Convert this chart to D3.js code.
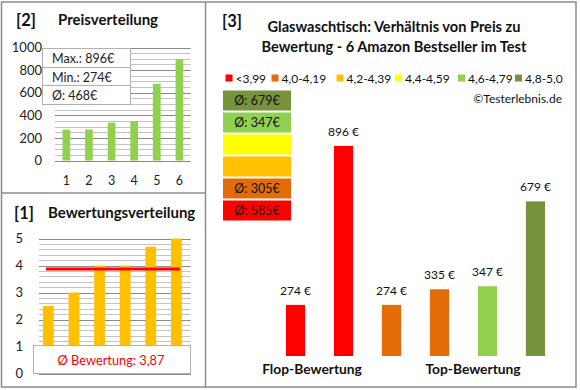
<!DOCTYPE html>
<html><head><meta charset="utf-8">
<script src="https://cdn.jsdelivr.net/npm/d3@7"></script>
<style>body{margin:0;background:#fff}svg{display:block;font-family:Lato,"Open Sans",sans-serif}</style>
</head><body><svg id="c" width="580" height="390"></svg>
<script>
// ---- data ----
const priceCats = ["1","2","3","4","5","6"];
const pricesSorted = [274,274,335,347,679,896];
const priceTicks = [0,200,400,600,800,1000];
const priceStats = ["Max.: 896€","Min.: 274€","Ø: 468€"];
const ratings = [2.5,3,4,4,4.7,5];
const ratingTicks = [0,1,2,3,4,5];
const avgRating = 3.87;
const avgRatingLabel = "Ø Bewertung: 3,87";
const mainPrices = [274,896,274,335,347,679];
const mainPriceLabels = ["274 €","896 €","274 €","335 €","347 €","679 €"];
const mainClass = [0,0,1,1,4,5];
const legendLabels = ["<3,99","4,0-4,19","4,2-4,39","4,4-4,59","4,6-4,79","4,8-5,0"];
const classColors = ["#FF0000","#E36C09","#FFC000","#FFFF00","#92D050","#77933C"];
const classAvg = ["Ø: 585€","Ø: 305€","","","Ø: 347€","Ø: 679€"];
const groupLabels = ["Flop-Bewertung","Top-Bewertung"];

const svg = d3.select("#c");
const frame = "#8c8c8c";

// frames
svg.append("rect").attr("x",1.5).attr("y",2).attr("width",574.5).attr("height",385).attr("fill","none").attr("stroke",frame).attr("stroke-width",1.5);
svg.append("line").attr("x1",205.5).attr("x2",205.5).attr("y1",2).attr("y2",387).attr("stroke",frame).attr("stroke-width",1.5);
svg.append("line").attr("x1",1.5).attr("x2",205.5).attr("y1",193).attr("y2",193).attr("stroke",frame).attr("stroke-width",1.5);

function title(x,y,t,size){svg.append("text").attr("x",x).attr("y",y).attr("font-weight","bold").attr("font-size",size).attr("fill","#111").text(t);}

// ---------- Panel [2] ----------
title(16,26,"[2]",16.5); title(58,25,"Preisverteilung",15);
const y2 = d3.scaleLinear().domain([0,1000]).range([160.5,47.5]);
const x2 = d3.scaleBand().domain(priceCats).range([55,190.7]).paddingInner(0.66).paddingOuter(0.33);
const g2 = svg.append("g");
d3.range(0,1001,50).forEach(v=>{
  g2.append("line").attr("x1",55).attr("x2",190.7).attr("y1",Math.round(y2(v))+0.5).attr("y2",Math.round(y2(v))+0.5)
    .attr("stroke", v%200===0 ? "#8a8a8a":"#c4c4c4").attr("stroke-width",1);
});
g2.selectAll("rect.b").data(pricesSorted).join("rect").attr("x",(d,i)=>x2(priceCats[i])).attr("width",x2.bandwidth())
  .attr("y",d=>y2(d)).attr("height",d=>y2(0)-y2(d)).attr("fill","#92D050");
const ax2 = d3.axisLeft(y2).tickValues(priceTicks).tickFormat(d3.format("d")).tickSize(0).tickPadding(0);
svg.append("g").attr("transform","translate(42,0)").call(ax2).call(g=>{g.select(".domain").remove();g.selectAll("text").attr("font-size",13).attr("fill","#222").attr("font-family","Lato,sans-serif");});
const axx2 = d3.axisBottom(x2).tickSize(0).tickPadding(0);
svg.append("g").attr("transform","translate(0,176)").call(axx2).call(g=>{g.select(".domain").remove();g.selectAll("text").attr("font-size",12.5).attr("fill","#222").attr("font-family","Lato,sans-serif");});
// stats box
const sb = svg.append("g");
sb.append("rect").attr("x",42.5).attr("y",48.5).attr("width",88).attr("height",56).attr("fill","#fff").attr("stroke","#b0b0b0");
[67,85].forEach(yy=>sb.append("line").attr("x1",42.5).attr("x2",130.5).attr("y1",yy+0.5).attr("y2",yy+0.5).attr("stroke","#b0b0b0"));
priceStats.forEach((t,i)=>sb.append("text").attr("x",52).attr("y",63+i*18.5).attr("font-size",12.5).attr("fill","#222").text(t));

// ---------- Panel [1] ----------
title(14,219,"[1]",16.5); title(48,218,"Bewertungsverteilung",15);
const y1 = d3.scaleLinear().domain([0,5]).range([373.5,238.5]);
const x1 = d3.scaleBand().domain(priceCats).range([34,190.7]).paddingInner(0.58).paddingOuter(0.35);
const g1 = svg.append("g");
d3.range(0,25.01,1).forEach(k=>{const v=k/5;
  g1.append("line").attr("x1",39).attr("x2",190.7).attr("y1",Math.round(y1(v))+0.5).attr("y2",Math.round(y1(v))+0.5)
    .attr("stroke", k%5===0 ? "#8a8a8a":"#c4c4c4").attr("stroke-width",1);
});
g1.selectAll("rect.b").data(ratings).join("rect").attr("x",(d,i)=>x1(priceCats[i])).attr("width",x1.bandwidth())
  .attr("y",d=>y1(d)).attr("height",d=>y1(0)-y1(d)).attr("fill","#FFC000");
g1.append("line").attr("x1",46).attr("x2",180).attr("y1",y1(avgRating)).attr("y2",y1(avgRating)).attr("stroke","#FF0000").attr("stroke-width",3);
const ax1 = d3.axisLeft(y1).tickValues(ratingTicks).tickFormat(d3.format("d")).tickSize(0).tickPadding(0);
svg.append("g").attr("transform","translate(23,0)").call(ax1).call(g=>{g.select(".domain").remove();g.selectAll("text").attr("font-size",13).attr("fill","#222").attr("font-family","Lato,sans-serif");});
svg.append("rect").attr("x",33.5).attr("y",345.5).attr("width",157).attr("height",28).attr("fill","#fff").attr("stroke","#b0b0b0");
svg.append("text").attr("x",111).attr("y",364.5).attr("text-anchor","middle").attr("font-size",12.8).attr("fill","#FF0000").text(avgRatingLabel);

// ---------- Panel [3] ----------
title(222,27,"[3]",16.5);
svg.append("text").attr("x",394).attr("y",32).attr("text-anchor","middle").attr("font-weight","bold").attr("font-size",14.6).attr("fill","#111").text("Glaswaschtisch: Verhältnis von Preis zu");
svg.append("text").attr("x",394).attr("y",52).attr("text-anchor","middle").attr("font-weight","bold").attr("font-size",14.6).attr("fill","#111").text("Bewertung - 6 Amazon Bestseller im Test");
// legend
const legX = [225.5,271.5,336.5,395,458,515];
legendLabels.forEach((t,i)=>{
  svg.append("rect").attr("x",legX[i]).attr("y",74.5).attr("width",7).attr("height",7).attr("fill",classColors[i]);
  svg.append("text").attr("x",legX[i]+10).attr("y",82.5).attr("font-size",12).attr("fill","#111").text(t);
});
svg.append("text").attr("x",562).attr("y",102.5).attr("text-anchor","end").attr("font-size",12).attr("fill","#111").text("©Testerlebnis.de");
// class average boxes (bottom = class 0)
classColors.forEach((c,i)=>{
  const yy = 200.5 - i*22;
  svg.append("rect").attr("x",223).attr("y",yy).attr("width",68).attr("height",20).attr("fill",c);
  if(classAvg[i]) svg.append("text").attr("x",257).attr("y",yy+14.5).attr("text-anchor","middle").attr("font-size",12.5).attr("fill","#111").text(classAvg[i]);
});
// main bars
const y3 = d3.scaleLinear().domain([74,1000]).range([356,119.3]);
const x3 = d3.scaleBand().domain(d3.range(mainPrices.length)).range([271.5,559.5]).paddingInner(0.6).paddingOuter(0.3);
svg.selectAll("rect.m").data(mainPrices).join("rect").attr("class","m")
  .attr("x",(d,i)=>x3(i)).attr("width",x3.bandwidth()).attr("y",d=>y3(d)).attr("height",d=>y3(74)-y3(d))
  .attr("fill",(d,i)=>classColors[mainClass[i]]);
svg.selectAll("text.m").data(mainPrices).join("text").attr("class","m")
  .attr("x",(d,i)=>x3(i)+x3.bandwidth()/2).attr("y",d=>y3(d)-10).attr("text-anchor","middle").attr("font-size",12).attr("fill","#111")
  .text((d,i)=>mainPriceLabels[i]);
groupLabels.forEach((t,i)=>svg.append("text").attr("x",[312,473][i]).attr("y",374).attr("text-anchor","middle").attr("font-weight","bold").attr("font-size",13.8).attr("fill","#111").text(t));
</script></body></html>
